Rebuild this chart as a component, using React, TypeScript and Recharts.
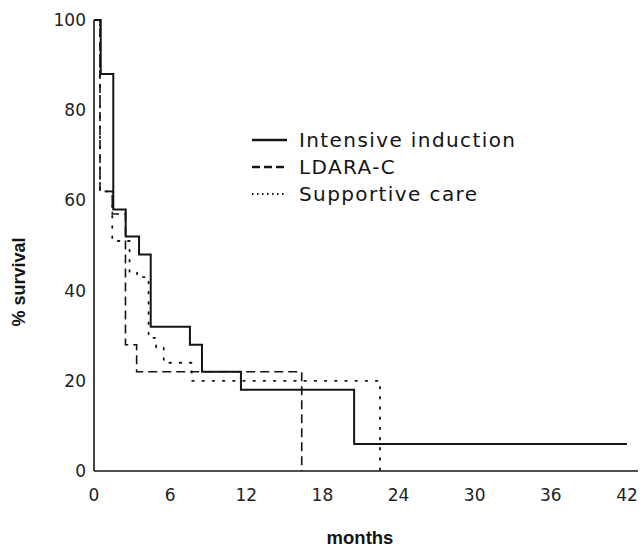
import React from 'react';
import { LineChart, Line, XAxis, YAxis, Legend, Label } from 'recharts';

const monthTicks = [0, 6, 12, 18, 24, 30, 36, 42];
const survivalTicks = [0, 20, 40, 60, 80, 100];
const seriesNames = ['Intensive induction', 'LDARA-C', 'Supportive care'];

const intensiveMonths = [0, 0.53, 1.52, 2.5, 3.55, 4.47, 7.56, 8.51, 11.58, 20.5, 42];
const intensiveSurvival = [100, 88, 58, 52, 48, 32, 28, 22, 18, 6, 6];

const ldaraMonths = [0, 0.47, 1.44, 2.48, 3.36, 16.37];
const ldaraSurvival = [100, 62, 57, 28, 22, 0];

const supportiveMonths = [0, 0.47, 1.44, 2.8, 3.4, 4.0, 4.3, 4.9, 5.5, 7.7, 22.54];
const supportiveSurvival = [100, 62, 51, 44, 43, 42, 29.5, 27.5, 24, 20, 0];

const zip = (m: number[], s: number[]) => m.map((month, i) => ({ month, survival: s[i] }));
const intensiveData = zip(intensiveMonths, intensiveSurvival);
const ldaraData = zip(ldaraMonths, ldaraSurvival);
const supportiveData = zip(supportiveMonths, supportiveSurvival);

const INK = '#141414';
const styles = [
  { dash: undefined as string | undefined, width: 2, legendDash: undefined as string | undefined, legendWidth: 2.5 },
  { dash: '9 5', width: 1.6, legendDash: '8 4', legendWidth: 2.5 },
  { dash: '1.6 8.6', width: 1.8, legendDash: '1.5 3.5', legendWidth: 1.8 },
];

const renderLegend = () => (
  <div style={{ fontFamily: 'DejaVu Sans', fontSize: 20, letterSpacing: 1.4, color: INK }}>
    {seriesNames.map((name, i) => (
      <div key={name} style={{ display: 'flex', alignItems: 'center', height: 27, whiteSpace: 'nowrap' }}>
        <svg width={35} height={10} style={{ marginRight: 12 }}>
          <line x1={0} y1={5} x2={35} y2={5} stroke={INK} strokeWidth={styles[i].legendWidth} strokeDasharray={styles[i].legendDash} />
        </svg>
        <span>{name}</span>
      </div>
    ))}
  </div>
);

const tickStyle = { fontFamily: 'DejaVu Sans', fontSize: 17, fill: '#222' };

export default function App() {
  return (
    <div style={{ position: 'absolute', left: 0, top: 0, width: 643, height: 550, background: '#fff' }}>
      <LineChart width={643} height={550} margin={{ top: 20, right: 5, bottom: 49, left: 0 }}>
        <XAxis
          dataKey="month"
          type="number"
          domain={[0, 42.87]}
          ticks={monthTicks}
          allowDataOverflow
          height={30}
          tickLine={false}
          tickMargin={12}
          tick={tickStyle}
          axisLine={{ stroke: INK, strokeWidth: 1.6 }}
        >
          <Label
            content={() => (
              <text x={360} y={544} textAnchor="middle" fontFamily="Liberation Sans" fontWeight="bold" fontSize={18.5} fill={INK}>
                months
              </text>
            )}
          />
        </XAxis>
        <YAxis
          type="number"
          domain={[0, 100]}
          ticks={survivalTicks}
          width={94}
          tickLine={false}
          tickMargin={2}
          tick={tickStyle}
          axisLine={{ stroke: INK, strokeWidth: 1.6 }}
        >
          <Label
            content={() => (
              <text x={19} y={282} transform="rotate(-90, 19, 282)" textAnchor="middle" dominantBaseline="central" fontFamily="Liberation Sans" fontWeight="bold" fontSize={18} fill={INK}>
                % survival
              </text>
            )}
          />
        </YAxis>
        <Legend
          layout="vertical"
          verticalAlign="middle"
          align="center"
          content={renderLegend}
          wrapperStyle={{ position: 'absolute', left: 252, top: 126, width: 320 }}
        />
        <Line data={intensiveData} dataKey="survival" name={seriesNames[0]} type="stepAfter" dot={false} activeDot={false} stroke={INK} strokeWidth={styles[0].width} isAnimationActive={false} />
        <Line data={ldaraData} dataKey="survival" name={seriesNames[1]} type="stepAfter" dot={false} activeDot={false} stroke={INK} strokeWidth={styles[1].width} strokeDasharray={styles[1].dash} isAnimationActive={false} />
        <Line data={supportiveData} dataKey="survival" name={seriesNames[2]} type="stepAfter" dot={false} activeDot={false} stroke={INK} strokeWidth={styles[2].width} strokeDasharray={styles[2].dash} strokeLinecap="round" isAnimationActive={false} />
      </LineChart>
    </div>
  );
}
